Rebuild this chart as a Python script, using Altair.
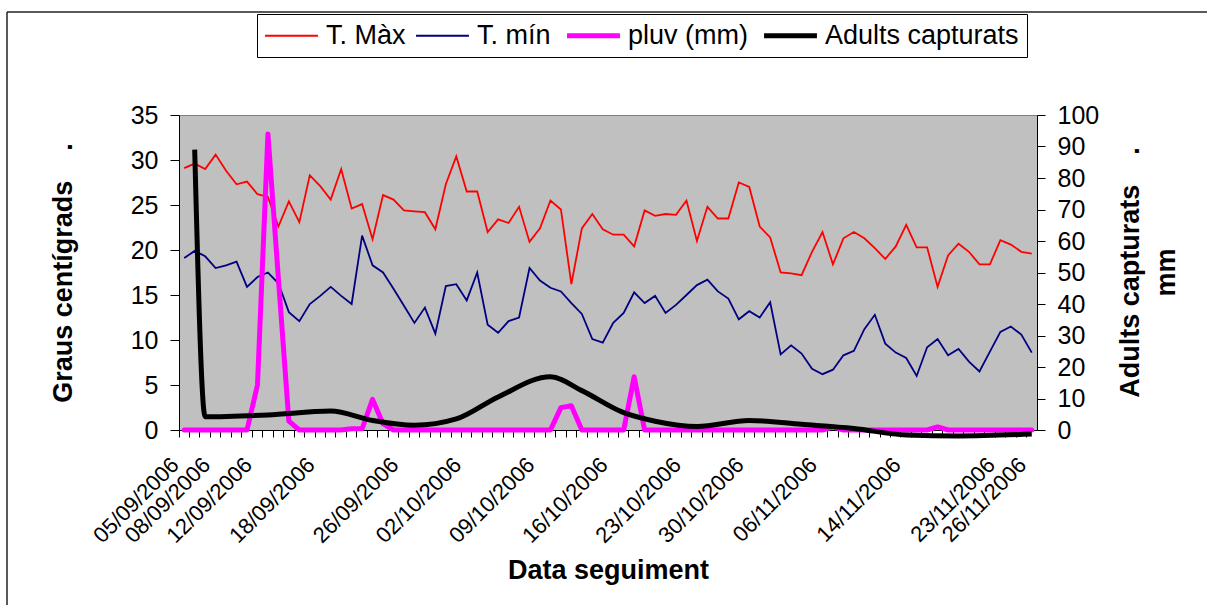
import altair as alt
import pandas as pd

# ---- categories (daily sampling dates; 29/10 absent in the source) ----
all_days = pd.date_range("2006-09-05", "2006-11-26", freq="D")
dates = [d.strftime("%d/%m/%Y") for d in all_days if d != pd.Timestamp("2006-10-29")]

label_dates = ["05/09/2006", "08/09/2006", "12/09/2006", "18/09/2006", "26/09/2006",
               "02/10/2006", "09/10/2006", "16/10/2006", "23/10/2006", "30/10/2006",
               "06/11/2006", "14/11/2006", "23/11/2006", "26/11/2006"]

# ---- series values ----
t_max = [29.1, 29.6, 29.0, 30.6, 28.8, 27.3, 27.6, 26.2, 25.9, 22.6,
         25.4, 23.1, 28.3, 27.1, 25.6, 29.0, 24.6, 25.1, 21.2, 26.1,
         25.6, 24.4, 24.3, 24.2, 22.3, 27.3, 30.4, 26.5, 26.5, 22.0,
         23.4, 23.0, 24.8, 20.9, 22.4, 25.5, 24.5, 16.2, 22.4, 24.0,
         22.3, 21.7, 21.7, 20.4, 24.4, 23.8, 24.0, 23.9, 25.5, 21.0,
         24.8, 23.5, 23.5, 27.5, 27.0, 22.6, 21.4, 17.5, 17.4, 17.2,
         19.8, 22.0, 18.4, 21.3, 22.0, 21.3, 20.2, 19.0, 20.4, 22.8,
         20.3, 20.3, 15.9, 19.4, 20.7, 19.8, 18.4, 18.4, 21.1, 20.6,
         19.8, 19.6]

t_min = [19.1, 19.9, 19.3, 18.0, 18.3, 18.7, 15.9, 17.0, 17.5, 16.3,
         13.1, 12.1, 14.0, 14.9, 15.9, 14.9, 14.0, 21.6, 18.3, 17.5,
         15.7, 13.8, 11.9, 13.6, 10.7, 16.0, 16.2, 14.4, 17.5, 11.7,
         10.8, 12.1, 12.5, 18.0, 16.6, 15.8, 15.4, 14.1, 12.9, 10.1,
         9.7, 11.9, 13.0, 15.3, 14.1, 14.9, 13.0, 13.9, 15.0, 16.1,
         16.7, 15.4, 14.6, 12.3, 13.2, 12.5, 14.2, 8.4, 9.4, 8.5,
         6.8, 6.2, 6.7, 8.3, 8.8, 11.2, 12.8, 9.6, 8.6, 8.0,
         6.0, 9.2, 10.1, 8.3, 9.0, 7.6, 6.5, 8.7, 10.9, 11.5,
         10.6, 8.6]

pluv = [0, 0, 0, 0, 0, 0, 0, 14.3, 94.0, 48.0,
        2.8, 0, 0, 0, 0, 0, 0.4, 0.4, 9.7, 2.0,
        0, 0, 0, 0, 0, 0, 0, 0, 0, 0,
        0, 0, 0, 0, 0, 0, 7.1, 7.7, 0, 0,
        0, 0, 0, 16.9, 0, 0, 0, 0, 0, 0,
        0, 0, 0, 0, 0, 0, 0, 0, 0, 0,
        0, 0, 1.0, 0, 0, 0, 0, 0, 0, 0,
        0, 0, 1.0, 0, 0, 0, 0, 0, 0, 0,
        0, 0]

adult_dates = ["06/09/2006", "07/09/2006", "13/09/2006", "19/09/2006", "23/09/2006",
               "27/09/2006", "01/10/2006", "05/10/2006", "10/10/2006", "13/10/2006",
               "17/10/2006", "20/10/2006", "24/10/2006", "30/10/2006", "04/11/2006",
               "09/11/2006", "14/11/2006", "19/11/2006", "26/11/2006"]
adult_vals = [89.0, 4.2, 4.8, 6.0, 3.0, 1.5, 3.5, 10.5, 16.9, 12.5,
              5.5, 2.8, 1.1, 3.0, 1.8, 0.5, -1.6, -1.9, -1.3]

series_order = ["T. Màx", "T. mín", "pluv (mm)", "Adults capturats"]
series_colors = ["#FF0000", "#000080", "#FF00FF", "#000000"]

temp_df = pd.DataFrame({
    "date": dates + dates,
    "series": ["T. Màx"] * len(dates) + ["T. mín"] * len(dates),
    "value": t_max + t_min,
})
pluv_df = pd.DataFrame({"date": dates, "series": "pluv (mm)", "value": pluv})
adult_df = pd.DataFrame({"date": adult_dates, "series": "Adults capturats", "value": adult_vals})

FONT = "Liberation Sans"
label_list = "[" + ",".join("'" + d + "'" for d in label_dates) + "]"

x_axis = alt.Axis(
    title="Data seguiment", titleFont=FONT, titleFontSize=27, titleFontWeight="bold",
    titleColor="black", titlePadding=11,
    bandPosition=0, labelExpr=f"indexof({label_list}, datum.value) >= 0 ? datum.value : ''",
    labelAngle=315, labelAlign="right", labelBaseline="middle", labelFont=FONT,
    labelFontSize=22, labelColor="black", labelPadding=24, labelOffset=-9, labelOverlap=False,
    tickSize=7, tickColor="black", domainColor="black", grid=False,
)
x_enc = alt.X("date:O", scale=alt.Scale(type="band", domain=dates, paddingInner=0, paddingOuter=0),
              bandPosition=0.5, axis=x_axis)

legend = alt.Legend(
    title=None, orient="none", legendX=78, legendY=-101, direction="horizontal",
    symbolType="stroke", symbolSize=2800, symbolOffset=13,
    symbolStrokeWidth=alt.ExprRef(
        expr="datum.value == 'pluv (mm)' || datum.value == 'Adults capturats' ? 5 : 2"),
    labelFont=FONT, labelFontSize=27, labelColor="black", labelOffset=21, labelLimit=400,
    columnPadding=6, padding=8, strokeColor="black", fillColor="white",
)
color_enc = alt.Color("series:N", scale=alt.Scale(domain=series_order, range=series_colors), legend=legend)

left_y = alt.Y("value:Q", scale=alt.Scale(domain=[0, 35], nice=False),
               axis=alt.Axis(values=list(range(0, 36, 5)), grid=False,
                             title="Graus centígrads\u00a0\u00a0\u00a0\u00a0.",
                             titleFont=FONT, titleFontSize=27, titleFontWeight="bold",
                             titleColor="black", titlePadding=53,
                             labelFont=FONT, labelFontSize=25, labelColor="black",
                             labelPadding=12, tickSize=9, tickColor="black", domainColor="black"))

right_axis = alt.Axis(orient="right", values=list(range(0, 101, 10)), grid=False,
                      title=["Adults capturats\u00a0\u00a0\u00a0\u00a0.", "mm"],
                      titleFont=FONT, titleFontSize=27, titleFontWeight="bold",
                      titleColor="black", titleAngle=270, titleBaseline="top",
                      titleLineHeight=36, titleX=80, titleY=157,
                      labelFont=FONT, labelFontSize=25, labelColor="black",
                      labelPadding=12, tickSize=8, tickColor="black", domainColor="black")
right_y = alt.Y("value:Q", scale=alt.Scale(domain=[0, 100], nice=False), axis=right_axis)

temps = alt.Chart(temp_df).mark_line(strokeWidth=1.8).encode(
    x=x_enc, y=left_y, color=color_enc, detail="series:N")

pluv_line = alt.Chart(pluv_df).mark_line(strokeWidth=5, strokeJoin="round", strokeCap="round").encode(
    x=x_enc, y=right_y, color=color_enc)
adult_line = alt.Chart(adult_df).mark_line(strokeWidth=5, interpolate="monotone").encode(
    x=x_enc, y=right_y, color=color_enc)

right_layer = alt.layer(pluv_line, adult_line)

frame = alt.Data(values=[{}])
border_v = alt.Chart(frame).mark_rule(color="#222222", strokeWidth=1.5).encode(
    x=alt.value(-172), y=alt.value(-103), y2=alt.value(490))
border_h = alt.Chart(frame).mark_rule(color="#222222", strokeWidth=1.5).encode(
    x=alt.value(-172), x2=alt.value(1028), y=alt.value(-103))

chart = alt.layer(temps, right_layer, border_v, border_h).resolve_scale(
    y="independent"
).properties(
    width=858, height=315,
    autosize=alt.AutoSizeParams(type="none"),
    padding={"left": 179, "top": 115, "right": 170, "bottom": 175},
    background="white",
).configure_view(
    fill="#C0C0C0", stroke="#808080", strokeWidth=1,
)

chart.save("out.html", embed_options={"renderer": "svg", "actions": False})
